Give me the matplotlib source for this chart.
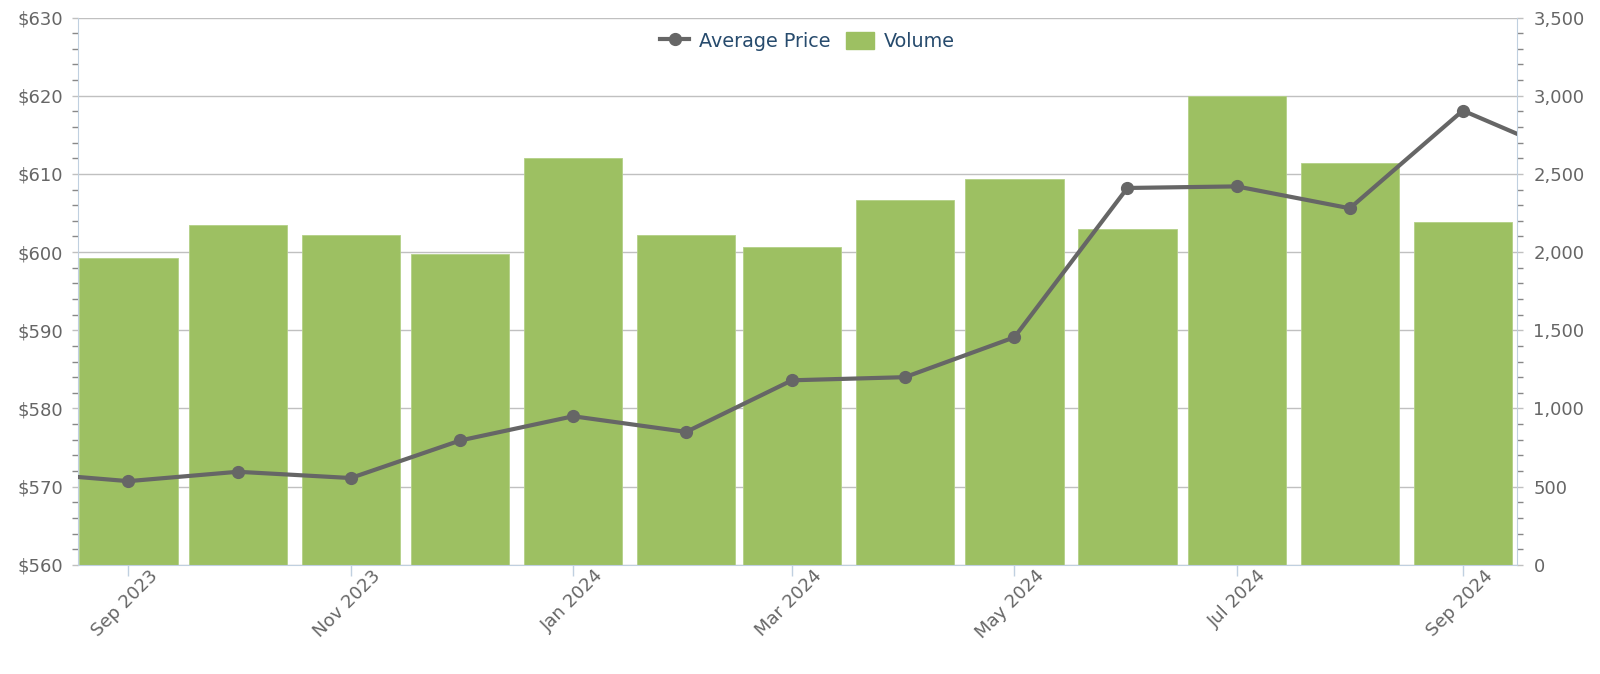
import datetime as dt
import matplotlib
matplotlib.use('Agg')
import matplotlib.pyplot as plt
import matplotlib.dates as mdates
import matplotlib.ticker as mticker
from matplotlib.lines import Line2D
from matplotlib.patches import Patch
from matplotlib.transforms import ScaledTranslation

plt.rcParams['font.family'] = ['DejaVu Sans']

# Data (monthly, first of month)
price_months = ['2023-08', '2023-09', '2023-10', '2023-11', '2023-12', '2024-01', '2024-02',
                '2024-03', '2024-04', '2024-05', '2024-06', '2024-07', '2024-08', '2024-09',
                '2024-10']
avg_price = [571.9, 570.7, 571.9, 571.1, 575.9, 579.0, 577.0,
             583.6, 584.0, 589.1, 608.2, 608.4, 605.6, 618.1,
             612.1]

volume_months = ['2023-09', '2023-10', '2023-11', '2023-12', '2024-01', '2024-02', '2024-03',
                 '2024-04', '2024-05', '2024-06', '2024-07', '2024-08', '2024-09']
volume = [1960, 2170, 2110, 1990, 2600, 2110, 2030,
          2330, 2470, 2145, 3000, 2570, 2190]

GREEN = '#9dc062'
LINE = '#666666'
GRID = '#c0c0c0'
AXIS = '#c0d0e0'
LABEL = '#666666'


def to_date(s):
    y, m = s.split('-')
    return dt.datetime(int(y), int(m), 1)


price_x = [to_date(s) for s in price_months]
vol_x = [to_date(s) for s in volume_months]

fig = plt.figure(figsize=(16, 6.74), dpi=100)
ax = fig.add_axes([0.049, 0.162, 0.899, 0.812])   # volume axis (right)
ax2 = ax.twinx()                                   # price axis (left)

# Volume bars
ax.bar(vol_x, volume, width=27, color=GREEN, edgecolor='#b3d087', linewidth=0.6, zorder=2)
ax.set_ylim(0, 3500)
ax.yaxis.set_major_locator(mticker.MultipleLocator(500))
ax.yaxis.set_minor_locator(mticker.MultipleLocator(100))
ax.yaxis.set_major_formatter(mticker.FuncFormatter(lambda v, p: f'{v:,.0f}'))
ax.yaxis.tick_right()
ax.set_axisbelow(True)
ax.grid(axis='y', color=GRID, linewidth=1)

# Price line
ax2.plot(price_x, avg_price, color=LINE, linewidth=3.0, marker='o', markersize=8.5, zorder=3)
ax2.set_ylim(560, 630)
ax2.yaxis.set_major_locator(mticker.MultipleLocator(10))
ax2.yaxis.set_minor_locator(mticker.MultipleLocator(2))
ax2.yaxis.set_major_formatter(mticker.FuncFormatter(lambda v, p: f'${v:.0f}'))
ax2.yaxis.tick_left()

ax.set_xlim(dt.datetime(2023, 9, 1) - dt.timedelta(days=13.7),
            dt.datetime(2024, 9, 1) + dt.timedelta(days=14.8))
ax.xaxis.set_major_locator(mdates.MonthLocator(bymonth=[1, 3, 5, 7, 9, 11]))
ax.xaxis.set_major_formatter(mdates.DateFormatter('%b %Y'))

for a in (ax, ax2):
    for side in ('top', 'left', 'right', 'bottom'):
        a.spines[side].set_visible(False)

ax.spines['bottom'].set_visible(True)
ax.spines['bottom'].set_color(AXIS)
ax.spines['right'].set_visible(True)
ax.spines['right'].set_color(AXIS)
ax2.spines['left'].set_visible(True)
ax2.spines['left'].set_color(AXIS)

ax.tick_params(axis='x', colors=AXIS, length=8, width=1, labelcolor=LABEL, labelsize=13)
ax.tick_params(axis='y', which='major', colors=GRID, length=4, width=1, pad=8,
               labelcolor=LABEL, labelsize=13)
ax.tick_params(axis='y', which='minor', colors='#888888', length=4, width=1)
ax2.tick_params(axis='y', which='major', colors=GRID, length=4, width=1, pad=7,
                labelcolor=LABEL, labelsize=13)
ax2.tick_params(axis='y', which='minor', colors='#888888', length=4, width=1)

offset = ScaledTranslation(27 / 100, 8 / 100, fig.dpi_scale_trans)
for lab in ax.get_xticklabels():
    lab.set_rotation(45)
    lab.set_ha('right')
    lab.set_va('center')
    lab.set_rotation_mode('anchor')
    lab.set_transform(lab.get_transform() + offset)

handles = [Line2D([], [], color=LINE, linewidth=3.0, marker='o', markersize=8.5),
           Patch(facecolor=GREEN, edgecolor=GREEN)]
leg = ax2.legend(handles, ['Average Price', 'Volume'], loc='upper center',
                 bbox_to_anchor=(0.507, 1.0), ncol=2, frameon=False, fontsize=13.8,
                 handlelength=1.5, handleheight=1.0, handletextpad=0.5,
                 columnspacing=0.8, borderaxespad=0.35)
for t in leg.get_texts():
    t.set_color('#274b6d')

fig.savefig('out.png', dpi=100)
